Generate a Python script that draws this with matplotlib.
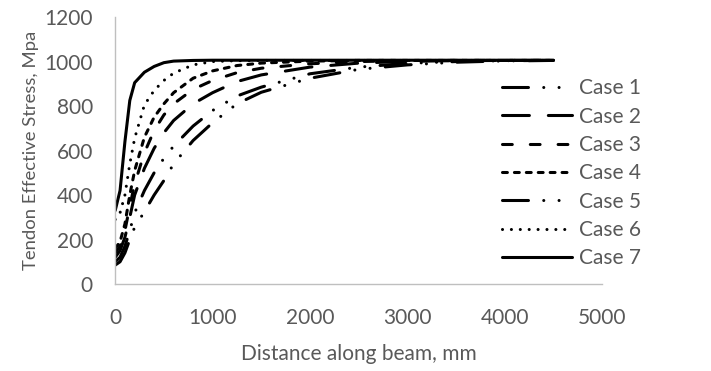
import matplotlib
matplotlib.use('Agg')
import matplotlib.pyplot as plt

# Distance along beam (mm) sample points
distance = [0, 50, 100, 150, 200, 300, 400, 500, 600, 800, 1000, 1250, 1500,
            2000, 2500, 3000, 3500, 4000, 4500]

# Tendon effective stress (MPa)
case1 = [100, 120, 170, 240, 320, 420, 500, 565, 620, 710, 780, 845, 885,
         945, 975, 992, 1000, 1004, 1005]
case2 = [120, 150, 210, 300, 400, 520, 610, 680, 735, 810, 860, 910, 940,
         975, 993, 1001, 1004, 1005, 1005]
case3 = [140, 170, 240, 350, 450, 590, 690, 760, 810, 875, 915, 950, 970,
         990, 1000, 1004, 1005, 1005, 1005]
case4 = [160, 190, 270, 400, 510, 660, 750, 810, 860, 925, 958, 982, 993,
         1002, 1005, 1005, 1005, 1005, 1005]
case5 = [85, 100, 140, 200, 255, 325, 400, 465, 540, 645, 725, 810, 862,
         925, 965, 985, 997, 1003, 1005]
case6 = [290, 320, 400, 540, 655, 805, 870, 915, 948, 985, 1000, 1004, 1005,
         1005, 1005, 1005, 1005, 1005, 1005]
case7 = [330, 420, 640, 825, 905, 952, 978, 995, 1002, 1005, 1006, 1006, 1006,
         1006, 1006, 1006, 1006, 1006, 1006]

labels = ['Case 1', 'Case 2', 'Case 3', 'Case 4', 'Case 5', 'Case 6', 'Case 7']
series = [case1, case2, case3, case4, case5, case6, case7]
styles = [(0, (8.5, 5, 0.01, 5, 0.01, 5)),
          (0, (8.8, 6.2)),
          (0, (3.2, 5.9)),
          (0, (1.6, 2.3)),
          (0, (8.5, 5, 0.01, 5, 0.01, 5)),
          (0, (0.01, 2.9)),
          '-']

plt.rcParams['font.family'] = ['Lato', 'DejaVu Sans']
text_color = '#595959'

fig = plt.figure(figsize=(7.11, 3.71), dpi=100)
ax = fig.add_axes([0.162, 0.2345, 0.685, 0.7195])

for vals, lab, ls in zip(series, labels, styles):
    ax.plot(distance, vals, color='black', linewidth=2.2, linestyle=ls,
            dash_capstyle='round', solid_capstyle='round', label=lab)

ax.set_xlim(0, 5000)
ax.set_ylim(0, 1200)
ax.set_xticks(range(0, 5001, 1000))
ax.set_yticks(range(0, 1201, 200))

for side in ['top', 'right']:
    ax.spines[side].set_visible(False)
for side in ['left', 'bottom']:
    ax.spines[side].set_color('#BFBFBF')
    ax.spines[side].set_linewidth(1)

ax.tick_params(length=0, labelsize=15, labelcolor=text_color)
ax.tick_params(axis='y', pad=16)
ax.tick_params(axis='x', pad=17)

ax.set_xlabel('Distance along beam, mm', fontsize=15, color=text_color, labelpad=12)
ax.set_ylabel('Tendon Effective Stress, Mpa', fontsize=13.3, color=text_color, labelpad=4)

ax.legend(loc='upper left', bbox_to_anchor=(0.795, 0.771), frameon=False,
          fontsize=15, labelcolor=text_color, handlelength=3.36,
          handletextpad=0.3, labelspacing=0.40, borderpad=0, borderaxespad=0)

fig.savefig('out.png', dpi=100)
